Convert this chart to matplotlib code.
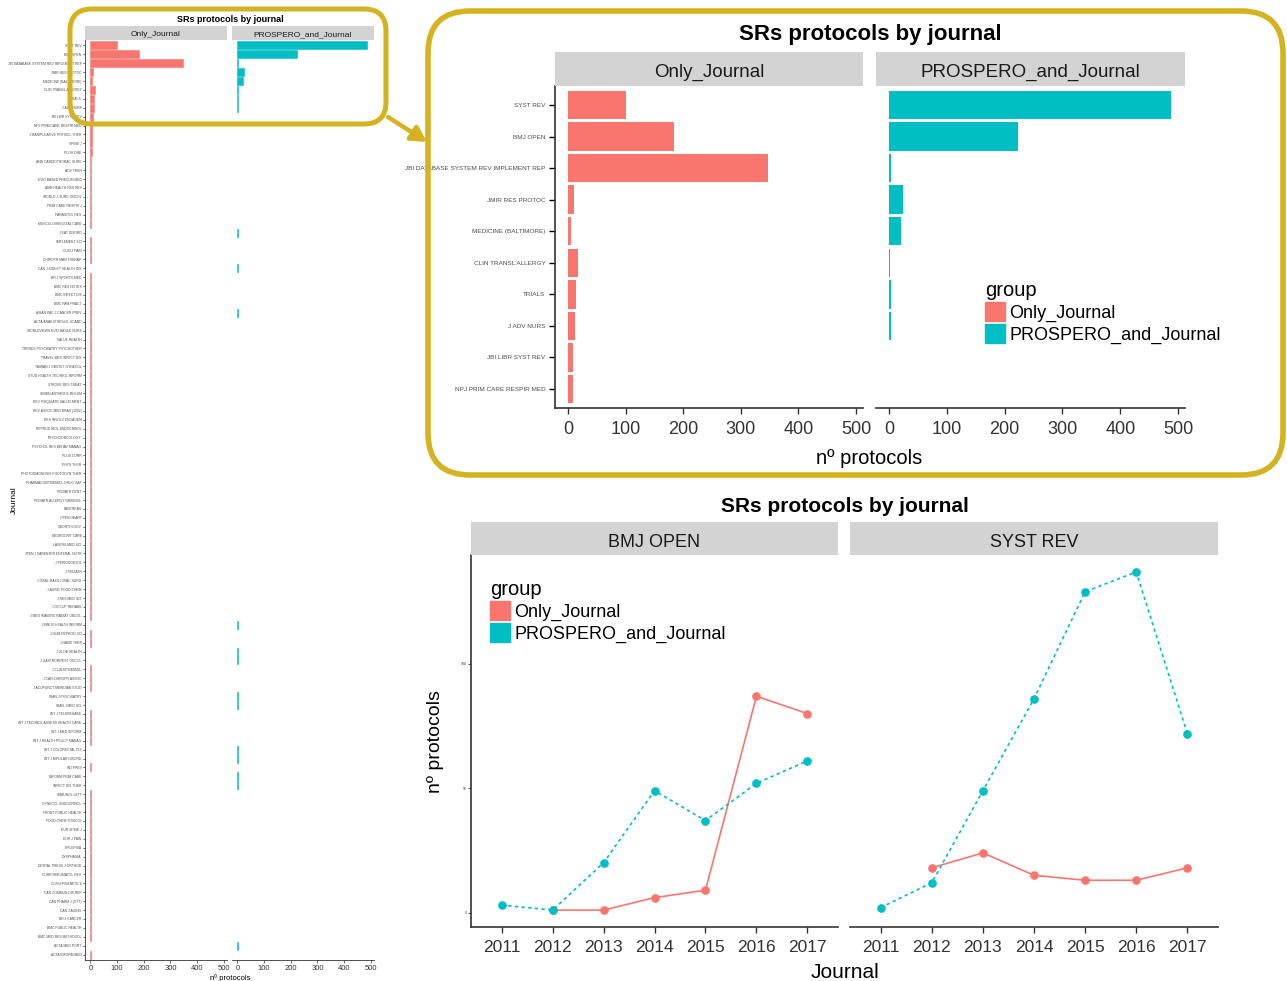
# SRs protocols by journal: full list + zoomed inset + yearly trend
import numpy as np
import matplotlib
matplotlib.use('Agg')
import matplotlib.pyplot as plt
from matplotlib.patches import FancyBboxPatch, Patch

plt.rcParams['font.family'] = ['Liberation Sans', 'DejaVu Sans']

W, H = 1287, 981
RED = '#F8766D'
TEAL = '#00BFC4'
GOLD = '#D5B320'
STRIP = '#D3D3D3'
AXC = '#333333'

# journals in plotted order (top to bottom)
journals = [
    'SYST REV', 'BMJ OPEN', 'JBI DATABASE SYSTEM REV IMPLEMENT REP', 'JMIR RES PROTOC',
    'MEDICINE (BALTIMORE)', 'CLIN TRANSL ALLERGY', 'TRIALS', 'J ADV NURS',
    'JBI LIBR SYST REV', 'NPJ PRIM CARE RESPIR MED',
    'J MANIPULATIVE PHYSIOL THER', 'SPINE J', 'PLOS ONE', 'ANN CARDIOTHORAC SURG',
    'ADV THER', 'EVID BASED PRECLIN MED', 'AMN HEALTH RES REV', 'WORLD J SURG ONCOL',
    'PRIM CARE RESPIR J', 'PARASITOL RES', 'MUSCULOSKELETAL CARE', 'J EAT DISORD',
    'IMPLEMENT SCI', 'CLIN J PAIN', 'CHIROPR MAN THERAP', 'CAN J KIDNEY HEALTH DIS',
    'BR J SPORTS MED', 'BMC RES NOTES', 'BMC INFECT DIS', 'BMC FAM PRACT',
    'ASIAN PAC J CANCER PREV', 'ACTA ANAESTHESIOL SCAND',
    'WORLDVIEWS EVID BASED NURS', 'VALUE HEALTH', 'TRENDS PSYCHIATRY PSYCHOTHER',
    'TRAVEL MED INFECT DIS', 'TAIWAN J OBSTET GYNECOL', 'STUD HEALTH TECHNOL INFORM',
    'STROKE RES TREAT', 'SEMIN ARTHRITIS RHEUM', 'REV PSIQUIATR SALUD MENT',
    'REV ASSOC MED BRAS (1992)', 'RES INVOLV ENGAGEM', 'REPROD BIOL ENDOCRINOL',
    'PSYCHOONCOLOGY', 'PSYCHOL RES BEHAV MANAG', 'PLOS CURR', 'PHYS THER',
    'PHOTODIAGNOSIS PHOTODYN THER', 'PHARMACOEPIDEMIOL DRUG SAF', 'PEDIATR DENT',
    'PEDIATR ALLERGY IMMUNOL', 'PANCREAS', 'OPEN HEART', 'ODONTOLOGY', 'NEUROCRIT CARE',
    'LASERS MED SCI', 'JPEN J PARENTER ENTERAL NUTR', 'J PERIODONTOL', 'J PEDIATR',
    'J ORAL MAXILLOFAC SURG', 'J AGRIC FOOD CHEM', 'J RES MED SCI', 'J OCCUP REHABIL',
    'J MED IMAGING RADIAT ONCOL', 'J INNOV HEALTH INFORM', 'J HUM REPROD SCI',
    'J HAND THER', 'J GLOB HEALTH', 'J GASTROINTEST ONCOL', 'J CLIN EPIDEMIOL',
    'J CAN CHIROPR ASSOC', 'J ACUPUNCT MERIDIAN STUD', 'IRAN J PSYCHIATRY',
    'IRAN J MED SCI', 'INT J TELEREHABIL', 'INT J TECHNOL ASSESS HEALTH CARE',
    'INT J MED INFORM', 'INT J HEALTH POLICY MANAG', 'INT J COLORECTAL DIS',
    'INT J BIPOLAR DISORD', 'INJ PREV', 'INFORM PRIM CARE', 'INFECT DIS THER',
    'IMMUNOL LETT', 'GYNECOL ENDOCRINOL', 'FRONT PUBLIC HEALTH', 'FOOD CHEM TOXICOL',
    'EUR SPINE J', 'EUR J PAIN', 'EPILEPSIA', 'DYSPHAGIA', 'DENTAL PRESS J ORTHOD',
    'CURR RHEUMATOL REV', 'CLIN EPIGENETICS', 'CAN COMMUN DIS REP', 'CAN PHARM J (OTT)',
    'CAN J AGING', 'BR J CANCER', 'BMC PUBLIC HEALTH', 'BMC MED RES METHODOL',
    'ACTA MED PORT', 'ACTA INFORM MED',
]

only_journal = [
    101, 184, 348, 10, 5, 17, 14, 12, 9, 8,
    7, 6, 5, 4, 4, 3, 3, 2, 2, 2, 2, 0, 2, 2, 2, 0, 2, 2, 2, 2, 1, 2,
    1, 1, 1, 1, 1, 1, 1, 1, 1, 1, 1, 1, 1, 1, 1, 1, 1, 1, 1, 1, 1, 1,
    1, 1, 1, 1, 1, 1, 1, 1, 1, 1, 1, 0, 1, 1, 0, 0, 1, 1, 1, 0, 0, 1,
    1, 1, 1, 0, 0, 1, 0, 0, 1, 1, 1, 1, 1, 1, 1, 1, 1, 1, 1, 1, 1, 1,
    1, 1, 1, 0, 1,
]
prospero_and_journal = [
    487, 223, 3, 24, 20, 2, 3, 3, 0, 0,
    0, 0, 0, 0, 0, 0, 0, 0, 0, 0, 0, 2, 0, 0, 0, 2, 0, 0, 0, 0, 1, 0,
    0, 0, 0, 0, 0, 0, 0, 0, 0, 0, 0, 0, 0, 0, 0, 0, 0, 0, 0, 0, 0, 0,
    0, 0, 0, 0, 0, 0, 0, 0, 0, 0, 0, 1, 0, 0, 1, 1, 0, 0, 0, 1, 1, 0,
    0, 0, 0, 1, 1, 0, 1, 1, 0, 0, 0, 0, 0, 0, 0, 0, 0, 0, 0, 0, 0, 0,
    0, 0, 0, 1, 0,
]

years = [2011, 2012, 2013, 2014, 2015, 2016, 2017]
bmj_only = [np.nan, 1, 1, 6, 9, 87, 80]
bmj_prospero = [3, 1, 20, 49, 37, 52, 61]
sr_only = [np.nan, 18, 24, 15, 13, 13, 18]
sr_prospero = [2, 12, 49, 86, 129, 137, 72]

groups = ['Only_Journal', 'PROSPERO_and_Journal']

fig = plt.figure(figsize=(W / 100, H / 100), dpi=100)


def px_axes(x0, y0, x1, y1):
    """axes from pixel box (top-left origin)"""
    return fig.add_axes([x0 / W, 1 - y1 / H, (x1 - x0) / W, (y1 - y0) / H])


def add_strip(ax, text, h, size):
    b = ax.get_position()
    s = fig.add_axes([b.x0, b.y1, b.width, h / H])
    s.set_facecolor(STRIP)
    s.set_xticks([])
    s.set_yticks([])
    for sp in s.spines.values():
        sp.set_visible(False)
    s.text(0.5, 0.45, text, ha='center', va='center_baseline', fontsize=size, color='#1A1A1A')


def classic(ax, lw, first=True):
    ax.spines['top'].set_visible(False)
    ax.spines['right'].set_visible(False)
    ax.spines['bottom'].set_linewidth(lw)
    ax.spines['left'].set_linewidth(lw)
    ax.spines['bottom'].set_color(AXC)
    ax.spines['left'].set_color(AXC)
    if not first:
        ax.spines['left'].set_visible(False)
        ax.tick_params(axis='y', left=False, labelleft=False)


def fig_text(x, y, s, va='center_baseline', **kw):
    fig.text(x / W, 1 - y / H, s, ha='center', va=va, **kw)


# ---------- left: all journals ----------
pos = np.arange(len(journals))
vals = [np.array(only_journal), np.array(prospero_and_journal)]
boxes = [(85, 40, 227, 960), (232, 40, 374, 960)]
for i in range(2):
    ax = px_axes(*boxes[i])
    m = vals[i] > 0
    c = [RED, TEAL][i]
    ax.barh(pos[m], vals[i][m], height=0.9, color=c, edgecolor=c, linewidth=0.4)
    ax.set_xlim(-20, 512)
    ax.set_ylim(len(journals) - 0.4, -0.6)
    ax.set_xticks(range(0, 501, 100))
    ax.tick_params(axis='x', labelsize=5.5, length=2, width=0.5, pad=1.5, colors=AXC)
    ax.set_yticks(pos)
    ax.set_yticklabels(journals, fontsize=2.4, color='#4D4D4D')
    ax.tick_params(axis='y', length=1.5, width=0.4, pad=1)
    classic(ax, 0.6, first=(i == 0))
    add_strip(ax, groups[i], 14, 6)
fig_text(230, 18, 'SRs protocols by journal', fontsize=6.5, fontweight='bold')
fig_text(14, 500, 'Journal', va='center', fontsize=6, rotation=90)
fig_text(230, 977, 'nº protocols', fontsize=5.5)

# ---------- inset: top 10 journals ----------
top = 10
boxes = [(555, 86, 863, 408), (876, 86, 1185, 408)]
for i in range(2):
    ax = px_axes(*boxes[i])
    v = vals[i][:top]
    m = v > 0
    ax.barh(pos[:top][m], v[m], height=0.9, color=[RED, TEAL][i])
    ax.set_xlim(-22.5, 512)
    ax.set_ylim(top - 0.4, -0.6)
    ax.set_xticks(range(0, 501, 100))
    ax.tick_params(axis='x', labelsize=13, length=4, width=1, pad=5, colors=AXC)
    ax.set_yticks(pos[:top])
    ax.set_yticklabels(journals[:top], fontsize=4.6, color='#4D4D4D')
    ax.tick_params(axis='y', length=4, width=1, pad=3)
    classic(ax, 1.2, first=(i == 0))
    add_strip(ax, groups[i], 34, 13.5)
fig_text(870, 32, 'SRs protocols by journal', fontsize=16, fontweight='bold')
fig_text(869, 457, 'nº protocols', fontsize=14.5)

handles = [Patch(color=RED), Patch(color=TEAL)]
leg_kw = dict(loc='upper left', frameon=False, fontsize=13, title_fontsize=14.5,
              handlelength=1.1, handleheight=1.3, handletextpad=0.25,
              labelspacing=0.1, borderpad=0, borderaxespad=0, alignment='left')
fig.legend(handles, groups, title='group', bbox_to_anchor=(985 / W, 1 - 281 / H), **leg_kw)

# ---------- bottom: yearly trend for top two journals ----------
series = [('BMJ OPEN', bmj_only, bmj_prospero), ('SYST REV', sr_only, sr_prospero)]
boxes = [(471, 555, 838, 927), (850, 555, 1218, 927)]
for i in range(2):
    name, o, p = series[i]
    ax = px_axes(*boxes[i])
    ax.plot(years, o, color=RED, lw=1.2, marker='o', ms=5.2)
    ax.plot(years, p, color=TEAL, lw=1.2, ls=(0, (2, 2)), marker='o', ms=5.2)
    ax.set_xlim(2010.4, 2017.6)
    ax.set_ylim(-5.8, 143.8)
    ax.set_xticks(years)
    ax.tick_params(axis='x', labelsize=12.5, length=4, width=1, pad=5, colors=AXC)
    ax.set_yticks([0, 50, 100])
    ax.tick_params(axis='y', labelsize=2.5, length=2, width=0.6, pad=1, colors=AXC)
    classic(ax, 1.2, first=(i == 0))
    add_strip(ax, name, 33, 13)
fig_text(845, 504, 'SRs protocols by journal', fontsize=15, fontweight='bold')
fig_text(436, 742, 'nº protocols', va='center', fontsize=14, rotation=90)
fig_text(845, 970, 'Journal', fontsize=15)
fig.legend(handles, groups, title='group', bbox_to_anchor=(490 / W, 1 - 580 / H), **leg_kw)

# ---------- yellow highlight boxes + arrow ----------
ov = fig.add_axes([0, 0, 1, 1], zorder=10)
ov.set_xlim(0, W)
ov.set_ylim(H, 0)
ov.axis('off')
ov.patch.set_alpha(0)
ov.add_patch(FancyBboxPatch((70, 9), 316, 115, boxstyle='round,pad=0,rounding_size=22',
                            fill=False, ec=GOLD, lw=3.6))
ov.add_patch(FancyBboxPatch((428, 11), 855, 464, boxstyle='round,pad=0,rounding_size=42',
                            fill=False, ec=GOLD, lw=4))
ov.annotate('', xy=(427, 142), xytext=(388, 117),
            arrowprops=dict(arrowstyle='-|>,head_length=0.9,head_width=0.5', color=GOLD,
                            lw=3.2, shrinkA=0, shrinkB=0))

fig.savefig('out.png', dpi=100)
